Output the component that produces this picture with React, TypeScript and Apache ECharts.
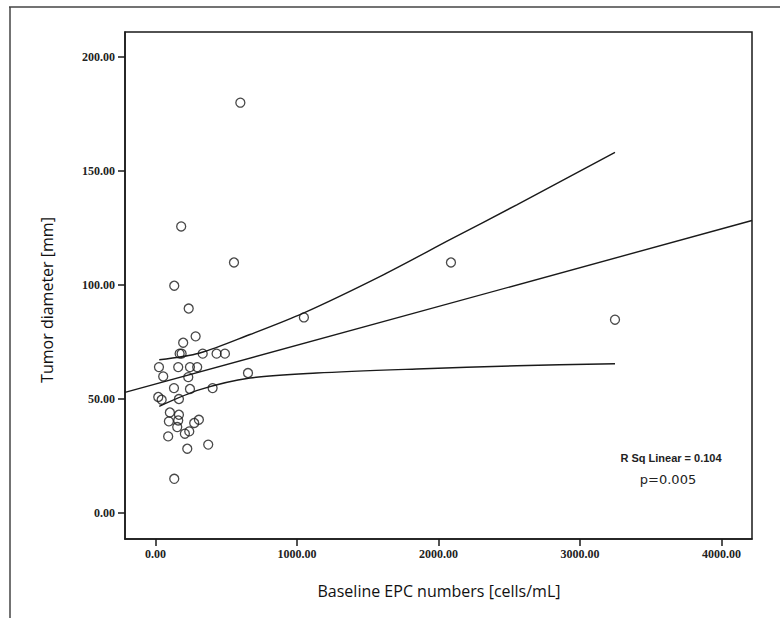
import React, { useEffect, useRef } from "react";
import * as echarts from "echarts";

// Tick labels
const xTicks = [0, 1000, 2000, 3000, 4000];
const yTicks = [0, 50, 100, 150, 200];

// Scatter data: baseline EPC numbers [cells/mL] vs tumor diameter [mm]
const epc = [
  133, 182, 600, 555, 133, 235, 1049, 2088, 3247, 284, 196, 171, 185, 334, 432, 491,
  25, 161, 244, 295, 55, 232, 654, 131, 244, 404, 20, 44, 166, 102, 166, 95, 161,
  154, 307, 274, 90, 208, 239, 225, 373,
];
const diameter = [
  15.0, 125.7, 180.0, 109.9, 99.7, 89.7, 85.8, 109.9, 84.8, 77.5, 74.7, 69.9, 69.9, 69.9, 69.9, 69.9,
  64.0, 64.0, 64.0, 64.0, 59.9, 59.6, 61.4, 54.8, 54.4, 54.8, 50.9, 49.7, 50.0, 44.1, 43.1, 40.2, 40.6,
  37.7, 40.9, 39.5, 33.6, 34.8, 35.8, 28.2, 30.0,
];

// Linear fit line (at the plot edges)
const fitX = [-215, 4215];
const fitY = [52.9, 128.3];

// Confidence band (mean)
const upperX = [27, 314, 668, 1045, 1610, 2081, 2553, 3247];
const upperY = [67.2, 70.2, 78.3, 87.7, 104.5, 119.9, 135.2, 158.2];
const lowerX = [27, 314, 668, 1139, 1846, 2553, 3247];
const lowerY = [46.8, 54.1, 59.2, 61.4, 63.2, 64.6, 65.5];

const zip = (a: number[], b: number[]) => a.map((v, i) => [v, b[i]]);

export default function App() {
  const ref = useRef<HTMLDivElement>(null);
  useEffect(() => {
    if (!ref.current) return;
    const chart = echarts.init(ref.current, null, { renderer: "svg" });
    const ink = "#1a1a1a";
    const lineStyle = { color: ink, width: 1.4 };
    chart.setOption({
      animation: false,
      backgroundColor: "#ffffff",
      grid: {
        left: 125,
        top: 32,
        right: 28,
        bottom: 79,
        show: true,
        borderColor: ink,
        borderWidth: 1.5,
        backgroundColor: "transparent",
      },
      xAxis: {
        type: "value",
        min: -215,
        max: 4215,
        splitLine: { show: false },
        axisLine: { show: true, onZero: false, lineStyle: { color: ink, width: 1.5 } },
        axisTick: { show: true, customValues: xTicks, length: 7, lineStyle: { color: ink, width: 1.5 } },
        axisLabel: {
          customValues: xTicks,
          formatter: (v: number) => v.toFixed(2),
          fontFamily: "Liberation Serif",
          fontWeight: "bold",
          fontSize: 12,
          color: "#222",
          margin: 9,
        },
      },
      yAxis: {
        type: "value",
        min: -11.4,
        max: 211,
        splitLine: { show: false },
        axisLine: { show: true, onZero: false, lineStyle: { color: ink, width: 1.5 } },
        axisTick: { show: true, customValues: yTicks, length: 7, lineStyle: { color: ink, width: 1.5 } },
        axisLabel: {
          customValues: yTicks,
          formatter: (v: number) => v.toFixed(2),
          fontFamily: "Liberation Serif",
          fontWeight: "bold",
          fontSize: 12,
          color: "#222",
          margin: 10,
        },
      },
      series: [
        {
          type: "line",
          data: zip(fitX, fitY),
          showSymbol: false,
          lineStyle,
          silent: true,
          z: 2,
        },
        {
          type: "line",
          data: zip(upperX, upperY),
          showSymbol: false,
          smooth: 0.3,
          lineStyle,
          silent: true,
          z: 2,
        },
        {
          type: "line",
          data: zip(lowerX, lowerY),
          showSymbol: false,
          smooth: 0.3,
          lineStyle,
          silent: true,
          z: 2,
        },
        {
          type: "scatter",
          data: zip(epc, diameter),
          symbol: "circle",
          symbolSize: 9,
          itemStyle: { color: "rgba(0,0,0,0)", borderColor: ink, borderWidth: 1.3 },
          z: 3,
        },
      ],
      graphic: [
        { type: "line", shape: { x1: 9, y1: 7, x2: 780, y2: 7 }, style: { stroke: "#444", lineWidth: 1.5 } },
        { type: "line", shape: { x1: 10, y1: 7, x2: 10, y2: 618 }, style: { stroke: "#444", lineWidth: 1.5 } },
        {
          type: "text",
          x: 47,
          y: 300,
          rotation: Math.PI / 2,
          style: {
            text: "Tumor diameter [mm]",
            fontFamily: "Open Sans",
            fontSize: 16,
            fill: "#111",
            align: "center",
            verticalAlign: "middle",
          },
        },
        {
          type: "text",
          x: 439,
          y: 591,
          style: {
            text: "Baseline EPC numbers [cells/mL]",
            fontFamily: "Open Sans",
            fontSize: 16,
            fill: "#111",
            align: "center",
            verticalAlign: "middle",
          },
        },
        {
          type: "text",
          x: 671,
          y: 458,
          style: {
            text: "R Sq Linear = 0.104",
            fontFamily: "Liberation Sans",
            fontWeight: "bold",
            fontSize: 11,
            fill: "#222",
            align: "center",
            verticalAlign: "middle",
          },
        },
        {
          type: "text",
          x: 668,
          y: 479,
          style: {
            text: "p=0.005",
            fontFamily: "DejaVu Sans",
            fontSize: 13,
            fill: "#222",
            align: "center",
            verticalAlign: "middle",
          },
        },
      ],
    });
    return () => chart.dispose();
  }, []);
  return (
    <div
      ref={ref}
      style={{ position: "fixed", left: 0, top: 0, width: 780, height: 618, background: "#fff" }}
    />
  );
}
